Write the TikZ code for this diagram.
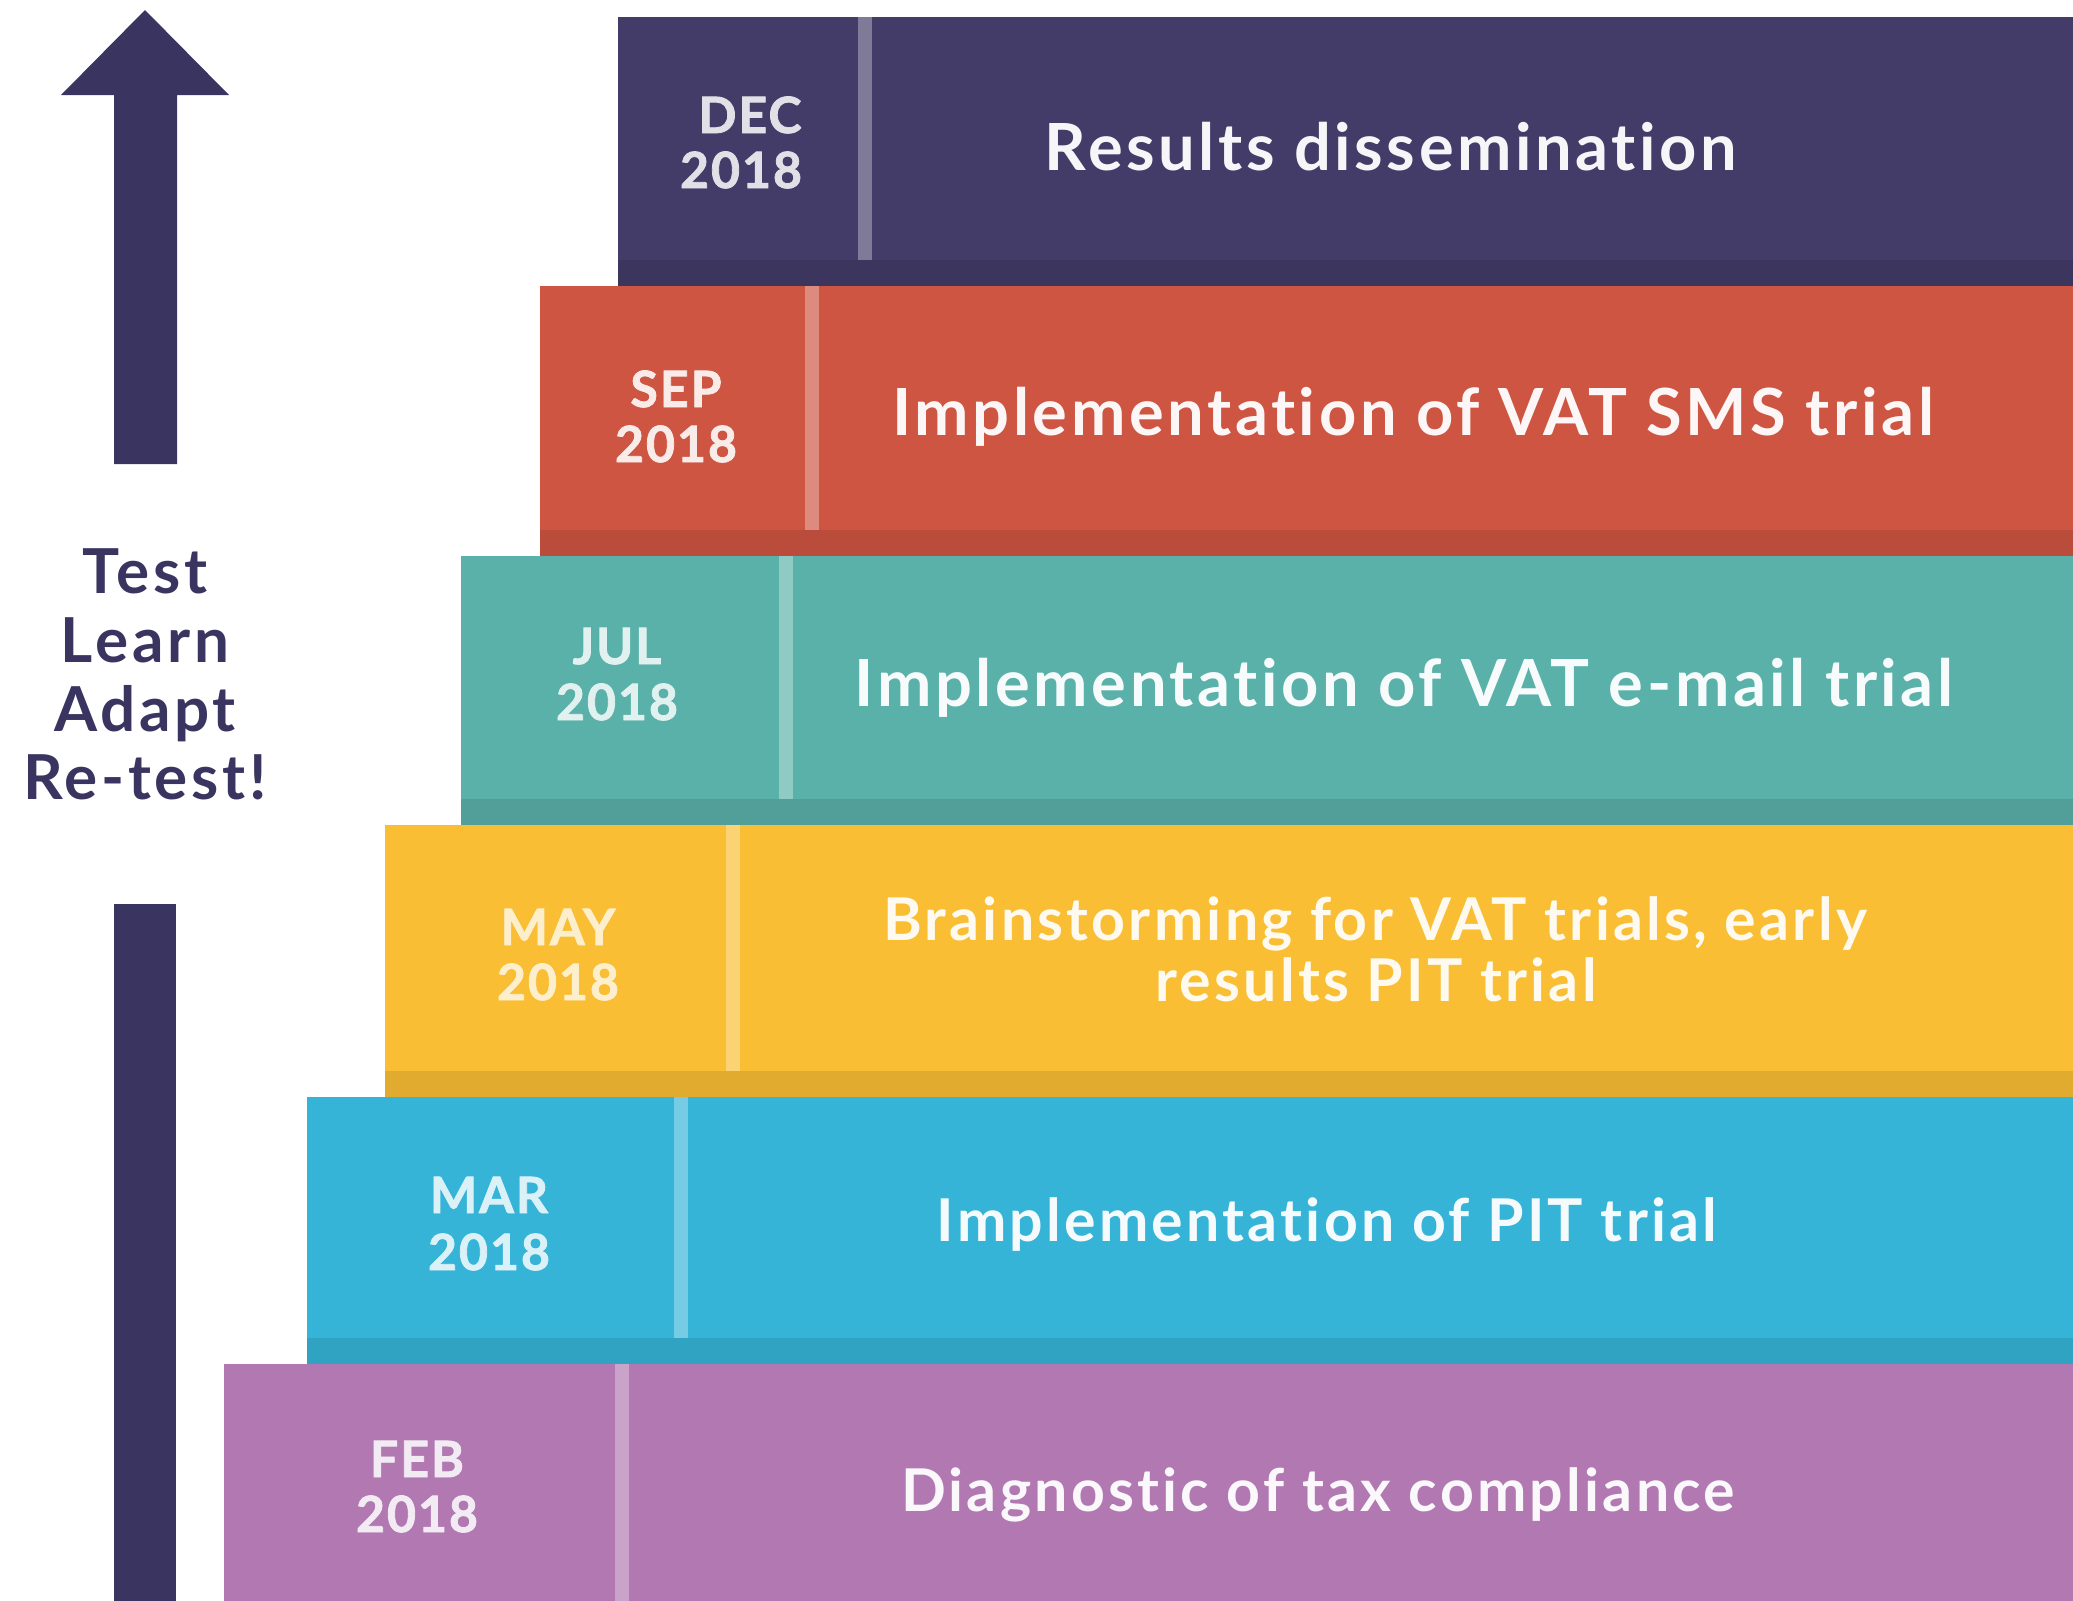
\documentclass[tikz,border=0pt]{standalone}
\usepackage{fontspec}
\setmainfont{Lato}
\newfontfamily\labfont{Lato}[LetterSpace=5.5,Ligatures={NoCommon,NoContextual}]
\newfontfamily\datefont{Lato}[LetterSpace=4,Ligatures={NoCommon,NoContextual},BoldFeatures={FakeBold=1.6}]
\newfontfamily\sidefont{Lato}[LetterSpace=6,Ligatures={NoCommon,NoContextual}]
\definecolor{cdec}{RGB}{67,60,104}
\definecolor{csep}{RGB}{205,85,66}
\definecolor{cjul}{RGB}{90,177,169}
\definecolor{cmay}{RGB}{249,190,51}
\definecolor{cmar}{RGB}{53,180,216}
\definecolor{cfeb}{RGB}{177,120,178}
\definecolor{navy}{RGB}{58,53,96}
\begin{document}
\begin{tikzpicture}[x=0.5pt,y=-0.5pt,
  maintxt/.style={anchor=base,inner sep=0pt,font=\labfont\bfseries\fontsize{32.5}{36}\selectfont},
  smalltxt/.style={anchor=base,inner sep=0pt,font=\labfont\bfseries\fontsize{29.5}{33}\selectfont},
  datetxt/.style={anchor=base,inner sep=0pt,font=\datefont\bfseries\fontsize{25}{28}\selectfont},
  sidetxt/.style={anchor=base,inner sep=0pt,text=navy,font=\sidefont\bfseries\fontsize{31}{34}\selectfont}]
\useasboundingbox (0,0) rectangle (2073,1601);
% bars: left/top/bottom/divider/colour
\foreach \l/\t/\b/\dv/\c in {618/17/286/858/cdec, 540/286/556/805/csep, 461/556/825/779/cjul,
  385/825/1097/726/cmay, 307/1097/1364/674/cmar, 224/1364/1630/615/cfeb}{
  \fill[\c] (\l,\t) rectangle (2073,\b);
  \fill[\c!90!black] (\l,\b-26) rectangle (2073,\b);
  \fill[\c!68!white] (\dv,\t) rectangle (\dv+14,\b-26);
}
% arrow
\fill[navy] (145,10) -- (229,95) -- (177,95) -- (177,464) -- (114,464) -- (114,95) -- (61,95) -- cycle;
\fill[navy] (114,904) rectangle (176,1601);
% side text
\node[sidetxt] (s1) at (145,593) {Test};
\node[sidetxt] (s2) at (145,662) {Learn};
\node[sidetxt] (s3) at (145,731) {Adapt};
\node[sidetxt] (s4) at (145,799) {Re-test!};
% dates
\node[datetxt,text=white!84!cdec] (d1a) at (750,133) {DEC};
\node[datetxt,text=white!84!cdec] (d1b) at (741,188) {2018};
\node[datetxt,text=white!88!csep] (d2a) at (676,407) {SEP};
\node[datetxt,text=white!88!csep] (d2b) at (676,462) {2018};
\node[datetxt,text=white!82!cjul] (d3a) at (617,664) {JUL};
\node[datetxt,text=white!82!cjul] (d3b) at (617,720) {2018};
\node[datetxt,text=white!75!cmay] (d4a) at (558,945) {MAY};
\node[datetxt,text=white!75!cmay] (d4b) at (558,1000) {2018};
\node[datetxt,text=white!82!cmar] (d5a) at (489,1213) {MAR};
\node[datetxt,text=white!82!cmar] (d5b) at (489,1270) {2018};
\node[datetxt,text=white!85!cfeb] (d6a) at (417,1477) {FEB};
\node[datetxt,text=white!85!cfeb] (d6b) at (417,1532) {2018};
% main labels
\node[maintxt,text=white!95!cdec] (m1) at (1391,170) {Results dissemination};
\node[maintxt,text=white!95!csep] (m2) at (1413,435) {Implementation of VAT SMS trial};
\node[maintxt,text=white!95!cjul] (m3) at (1404,706) {Implementation of VAT e-mail trial};
\node[smalltxt,text=white!92!cmay] (m4a) at (1375,940) {Brainstorming for VAT trials, early};
\node[smalltxt,text=white!92!cmay] (m4b) at (1376,1001) {results PIT trial};
\node[smalltxt,text=white!95!cmar] (m5) at (1327,1241) {Implementation of PIT trial};
\node[smalltxt,text=white!95!cfeb] (m6) at (1318,1511) {Diagnostic of tax compliance};
\end{tikzpicture}
\end{document}
